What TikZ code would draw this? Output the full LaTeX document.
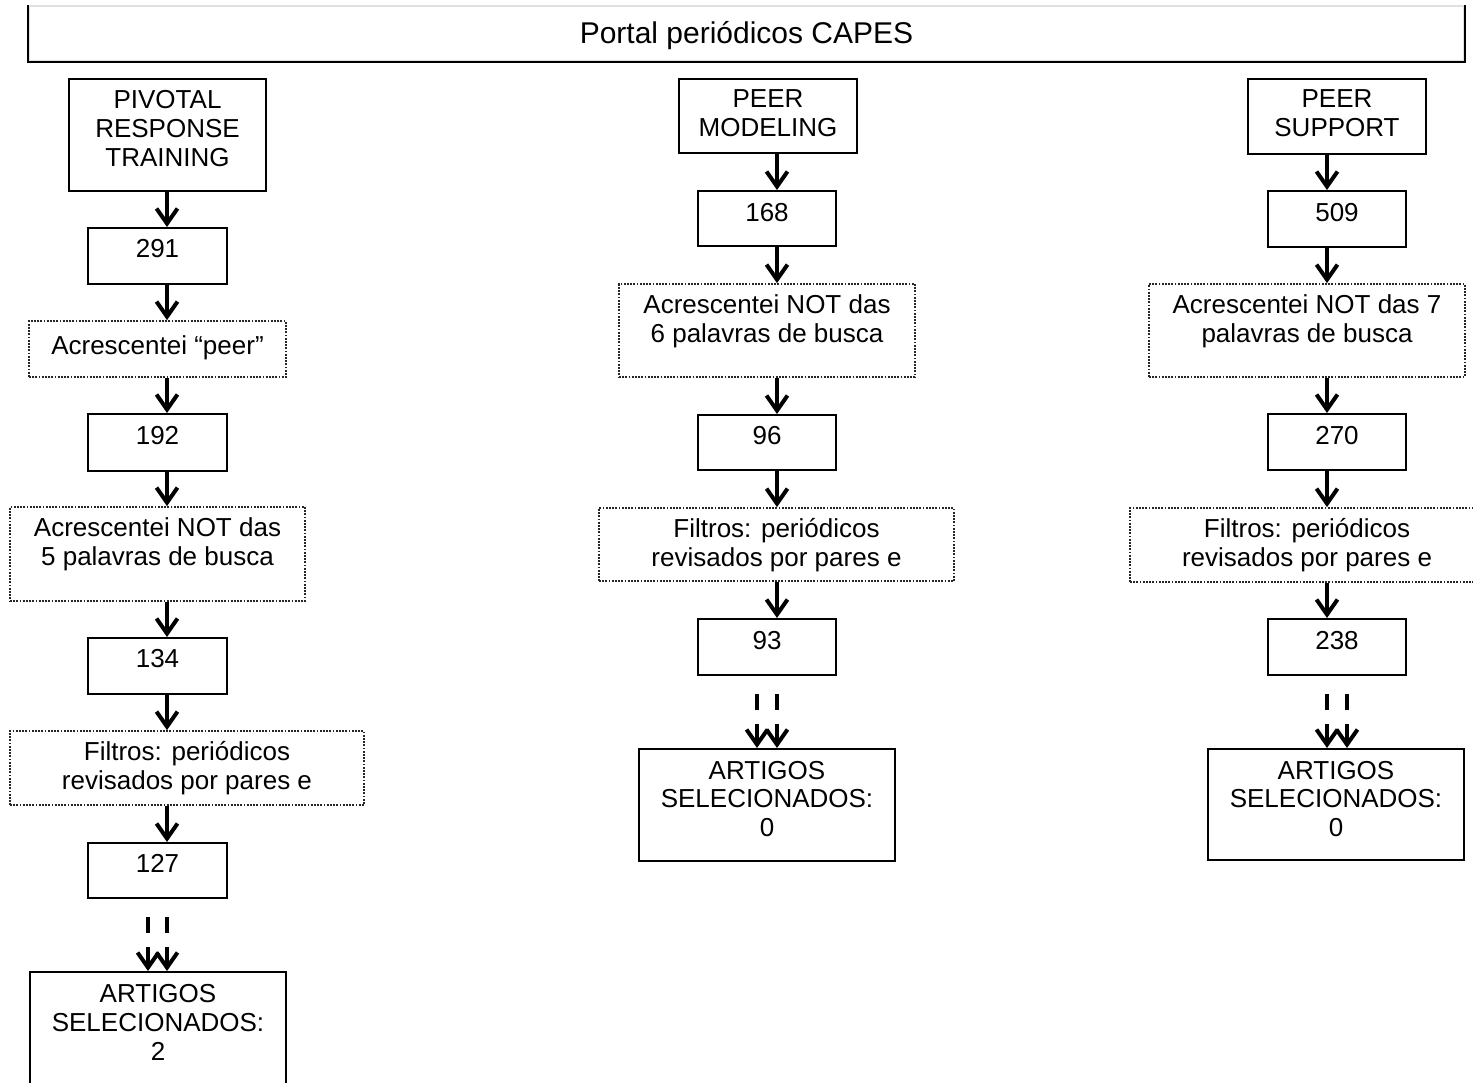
\documentclass[tikz,border=0pt]{standalone}
\usepackage{fontspec}
\setmainfont{Liberation Sans}
\usetikzlibrary{arrows.meta}
\begin{document}
\begin{tikzpicture}[x=0.5pt,y=-0.5pt,
  solidbox/.style={draw=black, line width=1pt, inner sep=0pt},
  dotbox/.style={draw=black!85, line width=0.9pt, dash pattern=on 0.9pt off 0.7pt, inner sep=0pt},
  lbl/.style={font=\fontsize{13}{14.4}\selectfont, align=center, inner sep=0pt},
  arr/.style={line width=2pt, -{Straight Barb[length=7.5pt,width=10.5pt,line width=2pt]}},
  dasharr/.style={arr, dash pattern=on 8pt off 7pt on 40pt}
]
\clip (0,0) rectangle (1473,1082);
% title bar
\node[draw=black!12, line width=0.8pt, minimum width=717.5pt, minimum height=27.5pt, inner sep=0pt] (title) at (746.5,33.5) {};
\draw[line width=1pt] (title.north west) -- (title.south west) -- (title.south east) -- (title.north east);
\node[lbl, font=\fontsize{15}{17}\selectfont, anchor=base] (titlet) at (746.5,43) {Portal periódicos CAPES};

% arrow columns
\coordinate (c1) at (167,0);
\coordinate (c1b) at (148,0);
\coordinate (c2) at (777,0);
\coordinate (c2b) at (757,0);
\coordinate (c3) at (1327,0);
\coordinate (c3b) at (1347,0);

% ---------- column 1 ----------
\node[solidbox, minimum width=98.5pt, minimum height=56pt] (P1) at (167.5,135) {};
\node[lbl] (P1t) at (167.5,128.5) {PIVOTAL\\RESPONSE\\TRAINING};
\node[solidbox, minimum width=69.5pt, minimum height=28pt] (N1) at (157.5,256) {};
\node[lbl, anchor=base] (N1t) at (157.5,257.5) {291};
\node[dotbox, minimum width=128.5pt, minimum height=28pt] (D1) at (157.5,349) {};
\node[lbl, anchor=base] (D1t) at (157.5,354.5) {Acrescentei “peer”};
\node[solidbox, minimum width=69.5pt, minimum height=28.5pt] (N2) at (157.5,442.5) {};
\node[lbl, anchor=base] (N2t) at (157.5,444.5) {192};
\node[dotbox, minimum width=147.5pt, minimum height=47pt] (D2) at (157.5,554) {};
\node[lbl] (D2t) at (157.5,544) {Acrescentei NOT das\\5 palavras de busca};
\node[solidbox, minimum width=69.5pt, minimum height=28pt] (N3) at (157.5,666) {};
\node[lbl, anchor=base] (N3t) at (157.5,667.5) {134};
\node[dotbox, minimum width=177pt, minimum height=37pt] (D3) at (187,768) {};
\node[lbl] (D3t) at (187,768.5) {Filtros: periódicos\\revisados por pares e};
\node[solidbox, minimum width=69.5pt, minimum height=27.5pt] (N4) at (157.5,870.5) {};
\node[lbl, anchor=base] (N4t) at (157.5,872.5) {127};
\node[solidbox, minimum width=128pt, minimum height=56pt] (A1) at (158,1028) {};
\node[lbl] (A1t) at (158,1022.5) {ARTIGOS\\SELECIONADOS:\\2};

\draw[arr] (P1.south -| c1) -- (N1.north -| c1);
\draw[arr] (N1.south -| c1) -- (D1.north -| c1);
\draw[arr] (D1.south -| c1) -- (N2.north -| c1);
\draw[arr] (N2.south -| c1) -- (D2.north -| c1);
\draw[arr] (D2.south -| c1) -- (N3.north -| c1);
\draw[arr] (N3.south -| c1) -- (D3.north -| c1);
\draw[arr] (D3.south -| c1) -- (N4.north -| c1);
\draw[dasharr] ([yshift=-9pt]N4.south -| c1b) -- (A1.north -| c1b);
\draw[dasharr] ([yshift=-9pt]N4.south -| c1) -- (A1.north -| c1);

% ---------- column 2 ----------
\node[solidbox, minimum width=89pt, minimum height=37pt] (P2) at (768,116) {};
\node[lbl] (P2t) at (768,113.5) {PEER\\MODELING};
\node[solidbox, minimum width=69pt, minimum height=27.5pt] (N5) at (767,218.5) {};
\node[lbl, anchor=base] (N5t) at (767,221.5) {168};
\node[dotbox, minimum width=148pt, minimum height=46.5pt] (D4) at (767,330.5) {};
\node[lbl] (D4t) at (767,321.5) {Acrescentei NOT das\\6 palavras de busca};
\node[solidbox, minimum width=69pt, minimum height=27.5pt] (N6) at (767,442.5) {};
\node[lbl, anchor=base] (N6t) at (767,444.5) {96};
\node[dotbox, minimum width=177.5pt, minimum height=36.5pt] (D5) at (776.5,544.5) {};
\node[lbl] (D5t) at (776.5,545.5) {Filtros: periódicos\\revisados por pares e};
\node[solidbox, minimum width=69pt, minimum height=28pt] (N7) at (767,647) {};
\node[lbl, anchor=base] (N7t) at (767,649.5) {93};
\node[solidbox, minimum width=128pt, minimum height=56pt] (A2) at (767,805) {};
\node[lbl] (A2t) at (767,799) {ARTIGOS\\SELECIONADOS:\\0};

\draw[arr] (P2.south -| c2) -- (N5.north -| c2);
\draw[arr] (N5.south -| c2) -- (D4.north -| c2);
\draw[arr] (D4.south -| c2) -- (N6.north -| c2);
\draw[arr] (N6.south -| c2) -- (D5.north -| c2);
\draw[arr] (D5.south -| c2) -- (N7.north -| c2);
\draw[dasharr] ([yshift=-9pt]N7.south -| c2b) -- (A2.north -| c2b);
\draw[dasharr] ([yshift=-9pt]N7.south -| c2) -- (A2.north -| c2);

% ---------- column 3 ----------
\node[solidbox, minimum width=89pt, minimum height=37.5pt] (P3) at (1337,116.5) {};
\node[lbl] (P3t) at (1337,113.5) {PEER\\SUPPORT};
\node[solidbox, minimum width=69pt, minimum height=28pt] (N8) at (1337,219) {};
\node[lbl, anchor=base] (N8t) at (1337,221.5) {509};
\node[dotbox, minimum width=158pt, minimum height=46.5pt] (D6) at (1307,330.5) {};
\node[lbl] (D6t) at (1307,321.5) {Acrescentei NOT das 7\\palavras de busca};
\node[solidbox, minimum width=69pt, minimum height=28pt] (N9) at (1337,442) {};
\node[lbl, anchor=base] (N9t) at (1337,444.5) {270};
\node[dotbox, minimum width=177pt, minimum height=37pt] (D7) at (1307,545) {};
\node[lbl] (D7t) at (1307,545.5) {Filtros: periódicos\\revisados por pares e};
\node[solidbox, minimum width=69pt, minimum height=28pt] (N10) at (1337,647) {};
\node[lbl, anchor=base] (N10t) at (1337,649.5) {238};
\node[solidbox, minimum width=128pt, minimum height=55.5pt] (A3) at (1336,804.5) {};
\node[lbl] (A3t) at (1336,799) {ARTIGOS\\SELECIONADOS:\\0};

\draw[arr] (P3.south -| c3) -- (N8.north -| c3);
\draw[arr] (N8.south -| c3) -- (D6.north -| c3);
\draw[arr] (D6.south -| c3) -- (N9.north -| c3);
\draw[arr] (N9.south -| c3) -- (D7.north -| c3);
\draw[arr] (D7.south -| c3) -- (N10.north -| c3);
\draw[dasharr] ([yshift=-9pt]N10.south -| c3) -- (A3.north -| c3);
\draw[dasharr] ([yshift=-9pt]N10.south -| c3b) -- (A3.north -| c3b);
\end{tikzpicture}
\end{document}
